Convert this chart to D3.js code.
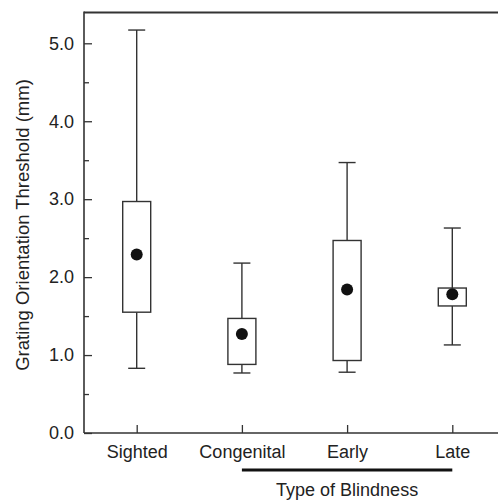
<!DOCTYPE html>
<html>
<head>
<meta charset="utf-8">
<script src="https://cdn.jsdelivr.net/npm/d3@7"></script>
<style>
  html, body { margin: 0; padding: 0; background: #fff; }
  svg { display: block; }
  text { font-family: "Liberation Sans", Arial, sans-serif; fill: #222; }
</style>
</head>
<body>
<svg id="chart" width="498" height="500"></svg>
<script>
// ---- data ----
const categories = ["Sighted", "Congenital", "Early", "Late"];
const whiskerLow  = [0.83, 0.77, 0.78, 1.13];
const boxLow      = [1.55, 0.88, 0.93, 1.63];
const boxHigh     = [2.97, 1.47, 2.47, 1.86];
const whiskerHigh = [5.17, 2.18, 3.47, 2.63];
const means       = [2.29, 1.27, 1.84, 1.78];
const yMajorTicks = [0, 1, 2, 3, 4, 5];
const yMinorTicks = [0.5, 1.5, 2.5, 3.5, 4.5];
const yTitle = "Grating Orientation Threshold (mm)";
const xTitle = "Type of Blindness";
const groupedCategories = ["Congenital", "Late"];

const rows = categories.map((c, i) => ({
  cat: c, wl: whiskerLow[i], bl: boxLow[i], bh: boxHigh[i], wh: whiskerHigh[i], m: means[i]
}));

// ---- layout ----
const svg = d3.select("#chart");
const axisColor = "#333";
const plotLeft = 84, plotBottom = 433, plotTop = 12.5, plotRight = 510;

const y = d3.scaleLinear().domain([0, 5]).range([plotBottom, 43.3]);
const x = d3.scalePoint().domain(categories).range([136.7, 452.3]);

// frame lines
svg.append("line").attr("x1", plotLeft).attr("x2", plotRight).attr("y1", plotTop).attr("y2", plotTop)
  .attr("stroke", axisColor).attr("stroke-width", 1.8);

// y axis (major)
const yAxis = d3.axisLeft(y).tickValues(yMajorTicks).tickFormat(d3.format(".1f"))
  .tickSizeInner(-8).tickSizeOuter(0).tickPadding(10);
const gy = svg.append("g").attr("transform", `translate(${plotLeft},0)`).call(yAxis);
gy.select(".domain").remove();
gy.selectAll(".tick line").attr("stroke", axisColor).attr("stroke-width", 1.3);
gy.selectAll(".tick text").attr("font-size", 18).attr("font-family", "Liberation Sans, Arial, sans-serif")
  .attr("fill", "#222").attr("x", -10);

// y axis (minor)
const yMinor = d3.axisLeft(y).tickValues(yMinorTicks).tickFormat("")
  .tickSizeInner(-5).tickSizeOuter(0);
const gym = svg.append("g").attr("transform", `translate(${plotLeft},0)`).call(yMinor);
gym.select(".domain").remove();
gym.selectAll(".tick line").attr("stroke", axisColor).attr("stroke-width", 1.3);

svg.append("line").attr("x1", plotLeft).attr("x2", plotLeft).attr("y1", plotTop - 1).attr("y2", plotBottom)
  .attr("stroke", axisColor).attr("stroke-width", 1.6);

// x axis
const xAxis = d3.axisBottom(x).tickSizeInner(-8).tickSizeOuter(0).tickPadding(12);
const gx = svg.append("g").attr("transform", `translate(0,${plotBottom})`).call(xAxis);
gx.select(".domain").remove();
gx.selectAll(".tick line").attr("stroke", axisColor).attr("stroke-width", 1.3);
gx.selectAll(".tick text").attr("font-size", 18).attr("font-family", "Liberation Sans, Arial, sans-serif")
  .attr("fill", "#222").attr("y", 12).attr("dy", "0.71em");
svg.append("line").attr("x1", plotLeft).attr("x2", plotRight).attr("y1", plotBottom).attr("y2", plotBottom)
  .attr("stroke", axisColor).attr("stroke-width", 1.6);

// boxes
const boxW = 28, capW = 17;
const g = svg.append("g").selectAll("g").data(rows).join("g");
g.append("line")
  .attr("x1", d => x(d.cat)).attr("x2", d => x(d.cat))
  .attr("y1", d => y(d.wh)).attr("y2", d => y(d.bh))
  .attr("stroke", axisColor).attr("stroke-width", 1.4);
g.append("line")
  .attr("x1", d => x(d.cat)).attr("x2", d => x(d.cat))
  .attr("y1", d => y(d.bl)).attr("y2", d => y(d.wl))
  .attr("stroke", axisColor).attr("stroke-width", 1.4);
g.append("line")
  .attr("x1", d => x(d.cat) - capW / 2).attr("x2", d => x(d.cat) + capW / 2)
  .attr("y1", d => y(d.wh)).attr("y2", d => y(d.wh))
  .attr("stroke", axisColor).attr("stroke-width", 1.4);
g.append("line")
  .attr("x1", d => x(d.cat) - capW / 2).attr("x2", d => x(d.cat) + capW / 2)
  .attr("y1", d => y(d.wl)).attr("y2", d => y(d.wl))
  .attr("stroke", axisColor).attr("stroke-width", 1.4);
g.append("rect")
  .attr("x", d => x(d.cat) - boxW / 2).attr("width", boxW)
  .attr("y", d => y(d.bh)).attr("height", d => y(d.bl) - y(d.bh))
  .attr("fill", "#fff").attr("stroke", axisColor).attr("stroke-width", 1.4);
g.append("circle")
  .attr("cx", d => x(d.cat)).attr("cy", d => y(d.m)).attr("r", 6)
  .attr("fill", "#111");

// grouping bar
svg.append("line")
  .attr("x1", x(groupedCategories[0])).attr("x2", x(groupedCategories[1]))
  .attr("y1", 470).attr("y2", 470)
  .attr("stroke", "#111").attr("stroke-width", 3.2);

// titles
svg.append("text")
  .attr("x", (x(groupedCategories[0]) + x(groupedCategories[1])) / 2)
  .attr("y", 495.5).attr("text-anchor", "middle").attr("font-size", 18)
  .text(xTitle);

svg.append("text")
  .attr("transform", `translate(29,225) rotate(-90)`)
  .attr("text-anchor", "middle").attr("font-size", 18.5)
  .text(yTitle);
</script>
</body>
</html>
